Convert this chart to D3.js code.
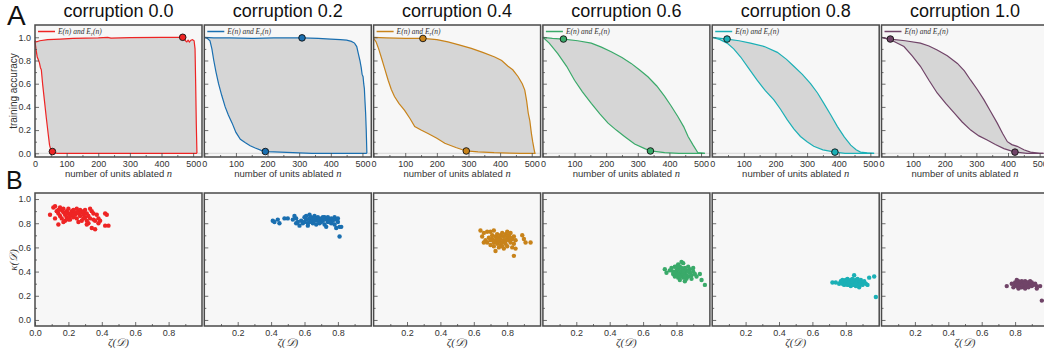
<!DOCTYPE html>
<html>
<head>
<meta charset="utf-8">
<script src="https://cdn.jsdelivr.net/npm/d3@7"></script>
<style>
  body { margin: 0; background: #fff; }
  svg { display: block; font-family: "Liberation Sans", Arial, sans-serif; }
</style>
</head>
<body>
<svg id="chart" width="1044" height="353"></svg>
<script>
// one panel per corruption level
const corruptions = ["0.0", "0.2", "0.4", "0.6", "0.8", "1.0"]
const colors = ["#ee2424", "#1a6fb0", "#c8831a", "#3aaa6a", "#1bb0b6", "#704468"]

// [n, accuracy] for the upper curve E(n) and lower curve E_r(n)
const upperCurves = [
  [[0,0.97],[5,0.96],[15,0.97],[40,0.98],[80,0.985],[120,0.99],[200,0.995],[230,1.0],[240,0.993],[300,0.998],[400,1.0],[467,1.0],[472,0.985],[476,0.97],[480,0.96],[484,0.975],[488,0.96],[493,0.975],[498,0.98],[503,0.97],[506,0.9],[508,0.6],[510,0.25],[512,0.0]],
  [[0,1.0],[30,0.995],[80,0.995],[150,0.99],[220,0.995],[309,0.995],[360,0.99],[400,0.985],[430,0.98],[450,0.975],[465,0.965],[475,0.95],[482,0.92],[487,0.86],[492,0.8],[496,0.74],[499,0.68],[502,0.66],[504,0.6],[506,0.56],[508,0.45],[510,0.35],[512,0.2],[514,0.0]],
  [[0,1.0],[40,0.995],[100,0.99],[156,0.99],[200,0.98],[235,0.96],[270,0.935],[309,0.905],[345,0.87],[383,0.83],[405,0.8],[425,0.75],[440,0.72],[457,0.66],[470,0.6],[478,0.545],[484,0.45],[489,0.345],[494,0.28],[499,0.17],[503,0.1],[507,0.04],[510,0.0]],
  [[0,1.0],[30,0.99],[65,0.985],[110,0.97],[153,0.95],[185,0.915],[216,0.875],[250,0.825],[279,0.775],[305,0.72],[332,0.66],[360,0.58],[385,0.49],[405,0.41],[427,0.315],[445,0.23],[459,0.145],[475,0.07],[490,0.005],[512,0.0]],
  [[0,1.0],[47,0.985],[85,0.97],[121,0.95],[165,0.92],[206,0.87],[235,0.81],[258,0.75],[285,0.68],[311,0.6],[333,0.52],[353,0.43],[375,0.33],[396,0.23],[418,0.14],[438,0.07],[455,0.03],[469,0.01],[490,0.003],[512,0.0]],
  [[0,1.0],[28,0.985],[75,0.97],[123,0.95],[150,0.925],[176,0.89],[208,0.84],[240,0.775],[262,0.71],[282,0.63],[303,0.55],[324,0.46],[345,0.36],[366,0.26],[383,0.17],[398,0.1],[412,0.075],[429,0.06],[450,0.03],[471,0.01],[500,0.0],[512,0.0]]
]
const lowerCurves = [
  [[0,0.97],[3,0.9],[7,0.83],[10,0.81],[14,0.78],[17,0.74],[20,0.72],[24,0.6],[30,0.45],[36,0.3],[42,0.16],[46,0.07],[50,0.03],[55,0.015],[62,0.005],[70,0.0],[512,0.0]],
  [[0,1.0],[10,0.99],[18,0.97],[24,0.9],[30,0.8],[37,0.7],[45,0.6],[55,0.5],[66,0.4],[76,0.33],[88,0.26],[100,0.18],[114,0.12],[130,0.09],[145,0.065],[161,0.045],[180,0.025],[193,0.015],[220,0.012],[260,0.008],[300,0.003],[340,0.0],[514,0.0]],
  [[0,0.99],[8,0.96],[16,0.9],[24,0.83],[35,0.73],[46,0.63],[56,0.55],[66,0.49],[80,0.43],[98,0.37],[115,0.3],[130,0.23],[150,0.2],[172,0.17],[200,0.13],[225,0.086],[260,0.05],[293,0.02],[330,0.012],[381,0.005],[430,0.002],[465,0.0],[512,0.0]],
  [[0,1.0],[20,0.95],[47,0.86],[75,0.75],[100,0.63],[125,0.53],[153,0.43],[180,0.34],[206,0.26],[232,0.2],[258,0.145],[290,0.08],[322,0.04],[340,0.02],[385,0.005],[430,0.0],[512,0.0]],
  [[0,1.0],[25,0.98],[47,0.95],[68,0.9],[90,0.83],[116,0.73],[142,0.63],[168,0.54],[195,0.46],[216,0.38],[237,0.29],[258,0.21],[279,0.145],[300,0.1],[321,0.06],[350,0.03],[388,0.01],[420,0.0],[512,0.0]],
  [[0,1.0],[35,0.97],[71,0.92],[97,0.84],[123,0.75],[150,0.63],[176,0.52],[203,0.43],[229,0.35],[255,0.27],[282,0.2],[308,0.15],[334,0.115],[360,0.075],[387,0.04],[422,0.01],[460,0.0],[512,0.0]]
]
// highlighted points on each curve
const upperMarks = [[467,1.0],[309,0.995],[156,0.99],[65,0.985],[47,0.985],[28,0.985]]
const lowerMarks = [[55,0.015],[193,0.015],[293,0.02],[340,0.02],[388,0.01],[422,0.01]]

// [zeta, kappa] per panel
const scatterPoints = [
  [[0.09,0.87],[0.11,0.93],[0.12,0.94],[0.13,0.90],[0.14,0.88],[0.15,0.93],[0.15,0.86],[0.16,0.91],[0.16,0.84],[0.17,0.89],[0.17,0.92],[0.18,0.87],[0.18,0.82],[0.19,0.90],[0.19,0.85],[0.2,0.92],[0.2,0.88],[0.21,0.86],[0.21,0.83],[0.22,0.90],[0.22,0.88],[0.23,0.91],[0.23,0.85],[0.24,0.89],[0.24,0.87],[0.25,0.92],[0.25,0.84],[0.26,0.90],[0.26,0.88],[0.27,0.86],[0.27,0.91],[0.28,0.89],[0.28,0.82],[0.29,0.87],[0.29,0.90],[0.3,0.85],[0.3,0.91],[0.31,0.88],[0.31,0.82],[0.32,0.86],[0.32,0.80],[0.33,0.92],[0.33,0.84],[0.34,0.90],[0.34,0.76],[0.35,0.88],[0.35,0.83],[0.36,0.75],[0.37,0.87],[0.38,0.84],[0.38,0.80],[0.39,0.82],[0.42,0.88],[0.43,0.87],[0.42,0.78],[0.44,0.78],[0.12,0.84],[0.14,0.79],[0.17,0.81],[0.2,0.83],[0.26,0.81],[0.31,0.79],[0.14,0.91],[0.19,0.88],[0.23,0.87],[0.29,0.84],[0.36,0.82]],
  [[0.41,0.82],[0.42,0.81],[0.44,0.83],[0.45,0.80],[0.48,0.84],[0.50,0.84],[0.53,0.83],[0.54,0.86],[0.55,0.84],[0.55,0.80],[0.56,0.81],[0.57,0.78],[0.58,0.82],[0.59,0.80],[0.60,0.85],[0.61,0.83],[0.61,0.86],[0.62,0.80],[0.62,0.78],[0.63,0.87],[0.63,0.84],[0.64,0.82],[0.64,0.85],[0.65,0.83],[0.65,0.80],[0.66,0.86],[0.66,0.82],[0.67,0.84],[0.67,0.79],[0.68,0.85],[0.68,0.82],[0.69,0.83],[0.70,0.81],[0.70,0.84],[0.71,0.82],[0.72,0.85],[0.72,0.79],[0.73,0.83],[0.74,0.81],[0.74,0.85],[0.75,0.83],[0.76,0.80],[0.76,0.84],[0.77,0.82],[0.78,0.85],[0.78,0.79],[0.79,0.83],[0.80,0.84],[0.80,0.81],[0.81,0.77],[0.82,0.77],[0.79,0.76],[0.73,0.77],[0.81,0.69],[0.60,0.81],[0.63,0.81],[0.66,0.84],[0.69,0.80],[0.71,0.85],[0.75,0.81]],
  [[0.64,0.74],[0.65,0.69],[0.66,0.72],[0.67,0.66],[0.68,0.64],[0.68,0.73],[0.69,0.68],[0.70,0.73],[0.70,0.62],[0.71,0.67],[0.71,0.70],[0.72,0.64],[0.72,0.74],[0.73,0.69],[0.73,0.66],[0.73,0.57],[0.74,0.71],[0.74,0.63],[0.75,0.68],[0.75,0.65],[0.75,0.60],[0.76,0.70],[0.76,0.67],[0.76,0.62],[0.77,0.72],[0.77,0.64],[0.78,0.69],[0.78,0.66],[0.78,0.59],[0.79,0.71],[0.79,0.63],[0.80,0.68],[0.80,0.73],[0.80,0.61],[0.81,0.66],[0.81,0.70],[0.82,0.64],[0.82,0.72],[0.83,0.67],[0.83,0.60],[0.84,0.69],[0.84,0.63],[0.85,0.66],[0.85,0.59],[0.84,0.53],[0.89,0.70],[0.90,0.67],[0.91,0.64],[0.94,0.64],[0.70,0.66],[0.72,0.61],[0.74,0.67],[0.77,0.61],[0.79,0.66],[0.82,0.68],[0.66,0.64]],
  [[0.73,0.42],[0.74,0.39],[0.76,0.41],[0.77,0.43],[0.78,0.38],[0.78,0.40],[0.79,0.44],[0.79,0.36],[0.80,0.41],[0.80,0.38],[0.81,0.46],[0.81,0.35],[0.81,0.42],[0.82,0.39],[0.82,0.44],[0.82,0.33],[0.83,0.40],[0.83,0.37],[0.83,0.48],[0.84,0.42],[0.84,0.35],[0.84,0.47],[0.85,0.39],[0.85,0.43],[0.85,0.32],[0.86,0.37],[0.86,0.41],[0.87,0.44],[0.87,0.36],[0.88,0.39],[0.88,0.42],[0.89,0.37],[0.89,0.34],[0.90,0.43],[0.90,0.40],[0.91,0.38],[0.92,0.36],[0.94,0.38],[0.95,0.33],[0.97,0.29],[0.80,0.44],[0.82,0.36],[0.84,0.38],[0.86,0.34],[0.83,0.43],[0.79,0.39],[0.87,0.40],[0.81,0.38],[0.85,0.36],[0.84,0.40]],
  [[0.72,0.31],[0.74,0.31],[0.76,0.30],[0.77,0.32],[0.78,0.30],[0.78,0.33],[0.79,0.31],[0.79,0.29],[0.80,0.32],[0.80,0.30],[0.81,0.34],[0.81,0.31],[0.82,0.29],[0.82,0.32],[0.83,0.30],[0.83,0.33],[0.83,0.28],[0.84,0.31],[0.84,0.34],[0.84,0.29],[0.85,0.32],[0.85,0.37],[0.85,0.30],[0.86,0.31],[0.86,0.28],[0.86,0.33],[0.87,0.30],[0.87,0.32],[0.88,0.27],[0.88,0.31],[0.89,0.33],[0.89,0.30],[0.90,0.31],[0.90,0.29],[0.91,0.32],[0.92,0.30],[0.93,0.29],[0.94,0.35],[0.97,0.36],[0.98,0.19],[0.81,0.29],[0.83,0.31],[0.85,0.29],[0.87,0.34],[0.82,0.31],[0.80,0.33],[0.84,0.32],[0.86,0.30],[0.88,0.29]],
  [[0.75,0.28],[0.78,0.30],[0.79,0.27],[0.80,0.31],[0.80,0.29],[0.81,0.33],[0.81,0.28],[0.82,0.30],[0.82,0.26],[0.82,0.32],[0.83,0.29],[0.83,0.31],[0.84,0.27],[0.84,0.30],[0.84,0.32],[0.85,0.28],[0.85,0.31],[0.86,0.29],[0.86,0.26],[0.86,0.32],[0.87,0.30],[0.87,0.28],[0.88,0.31],[0.88,0.29],[0.89,0.30],[0.89,0.32],[0.90,0.28],[0.90,0.31],[0.91,0.29],[0.92,0.30],[0.93,0.28],[0.93,0.26],[0.95,0.28],[0.96,0.16],[0.81,0.30],[0.83,0.27],[0.85,0.30],[0.87,0.31],[0.84,0.29],[0.86,0.30],[0.82,0.29],[0.88,0.27]]
]

const accTicks = [0, 0.2, 0.4, 0.6, 0.8, 1.0]
const accMinor = [0.1, 0.3, 0.5, 0.7, 0.9]
const unitTicks = [0, 100, 200, 300, 400, 500]
const unitMinor = [50, 150, 250, 350, 450]
const zetaTicks = [0.0, 0.2, 0.4, 0.6, 0.8]
const zetaMinor = [0.1, 0.3, 0.5, 0.7, 0.9]
const kappaTicks = [0, 0.2, 0.4, 0.6, 0.8, 1.0]
const kappaMinor = [0.1, 0.3, 0.5, 0.7, 0.9]

const svg = d3.select("#chart")
const panelW = 167
const panelLeft = i => 35 + i * 169.3
const topA = 25, botA = 157, topB = 193, botB = 326
const frameColor = "#4a4a4a"
const textColor = "#333"

function styleAxis(g) {
  g.select(".domain").remove()
  g.selectAll(".tick line").attr("stroke", frameColor).attr("stroke-width", 0.8)
  g.selectAll(".tick text").attr("fill", textColor).attr("font-size", 9)
    .attr("font-family", "\"Liberation Sans\", Arial, sans-serif")
}

function addAxes(g, x, y, yLabels, xTicks, xMinor, yTicks, yMinor, xFmt, yFmt, bottom) {
  g.append("g").attr("transform", `translate(0,${bottom})`)
    .call(d3.axisBottom(x).tickValues(xTicks).tickSize(-4).tickPadding(4).tickFormat(xFmt))
    .call(styleAxis)
  g.append("g").attr("transform", `translate(0,${bottom})`)
    .call(d3.axisBottom(x).tickValues(xMinor).tickSize(-2).tickFormat(""))
    .call(styleAxis)
  g.append("g").attr("transform", `translate(${x.range()[0]},0)`)
    .call(d3.axisLeft(y).tickValues(yTicks).tickSize(-4).tickPadding(4).tickFormat(yLabels ? yFmt : ""))
    .call(styleAxis)
  g.append("g").attr("transform", `translate(${x.range()[0]},0)`)
    .call(d3.axisLeft(y).tickValues(yMinor).tickSize(-2).tickFormat(""))
    .call(styleAxis)
}

corruptions.forEach((c, i) => {
  const x0 = panelLeft(i)
  const color = colors[i]

  // ---- row A: ablation curves ----
  const xA = d3.scaleLinear().domain([0, 528]).range([x0, x0 + panelW])
  const yA = d3.scaleLinear().domain([-0.032, 1.106]).range([botA, topA])
  const gA = svg.append("g")
  gA.append("rect").attr("x", x0).attr("y", topA).attr("width", panelW).attr("height", botA - topA)
    .attr("fill", "#f7f7f7")
  gA.append("line").attr("x1", x0).attr("x2", x0 + panelW).attr("y1", yA(0)).attr("y2", yA(0))
    .attr("stroke", "#cfcfcf").attr("stroke-width", 0.8)

  const line = d3.line().x(d => xA(d[0])).y(d => yA(d[1]))
  const band = upperCurves[i].concat(lowerCurves[i].slice().reverse())
  gA.append("path").attr("d", line(band) + "Z").attr("fill", "#d6d6d6")
  gA.append("path").attr("d", line(upperCurves[i])).attr("fill", "none")
    .attr("stroke", color).attr("stroke-width", 1.2)
  gA.append("path").attr("d", line(lowerCurves[i])).attr("fill", "none")
    .attr("stroke", color).attr("stroke-width", 1.2)
  gA.selectAll("circle.mark").data([upperMarks[i], lowerMarks[i]]).join("circle")
    .attr("class", "mark")
    .attr("cx", d => xA(d[0])).attr("cy", d => yA(d[1])).attr("r", 3.3)
    .attr("fill", color).attr("stroke", "#111").attr("stroke-width", 0.9)

  // legend
  gA.append("line").attr("x1", x0 + 3).attr("x2", x0 + 20).attr("y1", 31.5).attr("y2", 31.5)
    .attr("stroke", color).attr("stroke-width", 1.5)
  const lg = gA.append("text").attr("x", x0 + 23).attr("y", 34)
    .attr("font-family", "\"Liberation Serif\", \"DejaVu Serif\", serif").attr("font-style", "italic")
    .attr("font-size", 7.5).attr("fill", "#333")
  lg.append("tspan").text("E(n) and E")
  lg.append("tspan").attr("font-size", 5.5).attr("dy", 1.5).text("r")
  lg.append("tspan").attr("dy", -1.5).text("(n)")

  addAxes(gA, xA, yA, i === 0, unitTicks, unitMinor, accTicks, accMinor, d3.format("d"), d3.format(".1f"), botA)

  gA.append("rect").attr("x", x0).attr("y", topA).attr("width", panelW).attr("height", botA - topA)
    .attr("fill", "none").attr("stroke", frameColor).attr("stroke-width", 1.5)

  svg.append("text").attr("x", x0 + panelW / 2).attr("y", 17).attr("text-anchor", "middle")
    .attr("font-size", 18).attr("fill", "#111").text("corruption " + c)

  const xl = svg.append("text").attr("x", x0 + panelW / 2).attr("y", 177).attr("text-anchor", "middle")
    .attr("font-size", 9.5).attr("fill", textColor)
  xl.append("tspan").text("number of units ablated ")
  xl.append("tspan").attr("font-family", "\"Liberation Serif\", serif").attr("font-style", "italic")
    .attr("font-size", 10.5).text("n")

  // ---- row B: scatter ----
  const xB = d3.scaleLinear().domain([0, 1]).range([x0, x0 + panelW])
  const yB = d3.scaleLinear().domain([-0.05, 1.05]).range([botB, topB])
  const gB = svg.append("g")
  gB.append("rect").attr("x", x0).attr("y", topB).attr("width", panelW).attr("height", botB - topB)
    .attr("fill", "#f7f7f7")
  gB.selectAll("circle").data(scatterPoints[i]).join("circle")
    .attr("cx", d => xB(d[0])).attr("cy", d => yB(d[1])).attr("r", 2.2)
    .attr("fill", color)

  const zt = i === 0 ? zetaTicks : zetaTicks.slice(1)
  addAxes(gB, xB, yB, i === 0, zt, zetaMinor, kappaTicks, kappaMinor, d3.format(".1f"), d3.format(".1f"), botB)

  gB.append("rect").attr("x", x0).attr("y", topB).attr("width", panelW).attr("height", botB - topB)
    .attr("fill", "none").attr("stroke", frameColor).attr("stroke-width", 1.5)

  svg.append("text").attr("x", x0 + panelW / 2).attr("y", 346).attr("text-anchor", "middle")
    .attr("font-family", "\"Liberation Serif\", \"DejaVu Serif\", serif").attr("font-style", "italic")
    .attr("font-size", 11).attr("fill", textColor).text("ζ(𝒟)")
})

// axis titles on the left
svg.append("text").attr("transform", "translate(17,91) rotate(-90)").attr("text-anchor", "middle")
  .attr("font-size", 10).attr("fill", textColor).text("training accuracy")
svg.append("text").attr("transform", "translate(17,260) rotate(-90)").attr("text-anchor", "middle")
  .attr("font-family", "\"Liberation Serif\", \"DejaVu Serif\", serif").attr("font-style", "italic")
  .attr("font-size", 11).attr("fill", textColor).text("κ(𝒟)")

// panel letters
svg.append("text").attr("x", 7).attr("y", 25).attr("font-size", 28).attr("fill", "#111").text("A")
svg.append("text").attr("x", 6).attr("y", 189).attr("font-size", 25).attr("fill", "#111").text("B")
</script>
</body>
</html>
